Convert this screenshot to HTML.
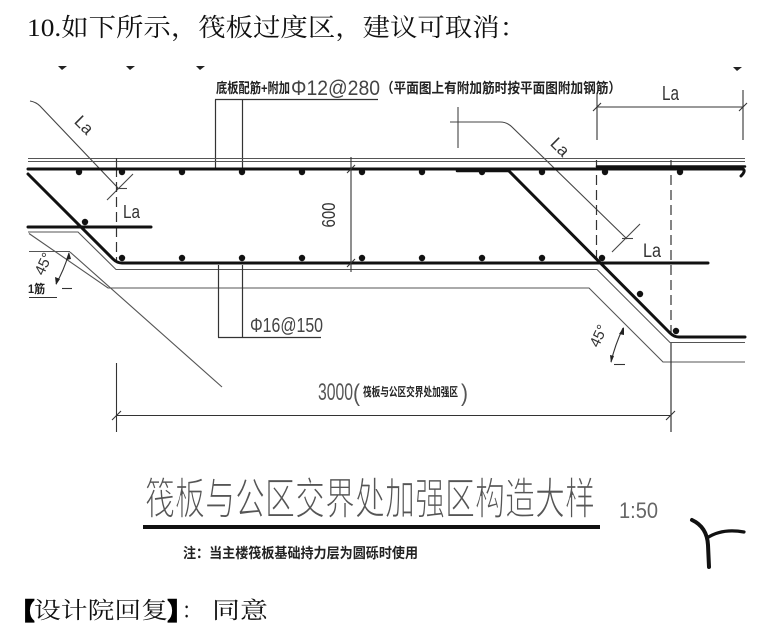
<!DOCTYPE html>
<html><head><meta charset="utf-8">
<style>
html,body{margin:0;padding:0;background:#fff;}
svg{display:block;}
.cad{font-family:"Liberation Sans","Noto Sans CJK SC",sans-serif;fill:#333;}
.cn{font-family:"Liberation Sans","Noto Sans CJK SC",sans-serif;font-weight:bold;fill:#222;}
.doc{font-family:"Liberation Serif","Noto Serif CJK SC",serif;fill:#111;}
.br{font-family:"Noto Sans CJK SC",sans-serif;font-weight:bold;fill:#000;stroke:#000;stroke-width:2.2;}
</style></head>
<body>
<svg width="769" height="642" viewBox="0 0 769 642" xmlns="http://www.w3.org/2000/svg">
<rect width="769" height="642" fill="#fff"/>

<!-- heading -->
<text class="doc" x="27" y="36" font-size="25" textLength="500" lengthAdjust="spacingAndGlyphs">10.如下所示，筏板过度区，建议可取消：</text>

<!-- top small marks -->
<g fill="#222">
<path d="M58 66 L67 66 L62 70 Z"/>
<path d="M126 66 L135 66 L130 70 Z"/>
<path d="M196 66 L205 66 L200 70 Z"/>
<path d="M733 67 L742 67 L737 71 Z"/>
</g>

<!-- top label -->
<text class="cn" x="216" y="93" font-size="14" textLength="74" lengthAdjust="spacingAndGlyphs">底板配筋+附加</text>
<text class="cad" x="291" y="95" font-size="21" textLength="89" lengthAdjust="spacingAndGlyphs" style="fill:#444">Φ12@280</text>
<text class="cn" x="381" y="93" font-size="14" textLength="240" lengthAdjust="spacingAndGlyphs">（平面图上有附加筋时按平面图附加钢筋）</text>
<g stroke="#333" stroke-width="1.2" fill="none">
<path d="M215 99.5 H378"/>
<path d="M215.5 99.5 V169"/>
<path d="M242.5 99.5 V169"/>
</g>

<!-- top right La dimension -->
<g stroke="#333" stroke-width="1.1" fill="none">
<path d="M597 93 V140"/>
<path d="M743 90 V140"/>
<path d="M597 107 H743"/>
<path d="M593 111 L601 103"/>
<path d="M739 111 L747 103"/>
</g>
<text class="cad" x="662" y="100" font-size="20" textLength="17" lengthAdjust="spacingAndGlyphs">La</text>

<!-- diagonal La leader (right) -->
<g stroke="#444" stroke-width="1.1" fill="none">
<path d="M458 107 V148"/>
<path d="M450 122 H500 Q507 122 512 127 L627 239"/>
<path d="M612 252 L640 224"/>
<path d="M622 238.5 H633"/>
</g>
<text class="cad" transform="translate(556,151) rotate(45)" text-anchor="middle" font-size="17">La</text>
<text class="cad" x="643" y="257" font-size="19" textLength="18" lengthAdjust="spacingAndGlyphs">La</text>

<!-- diagonal La leader (left) -->
<g stroke="#444" stroke-width="1.1" fill="none">
<path d="M30 101 Q36 102 40 106 L118 188"/>
<path d="M107 200 L133 174"/>
<path d="M117 188.5 H127"/>
</g>
<text class="cad" transform="translate(80,129) rotate(45)" text-anchor="middle" font-size="17">La</text>
<text class="cad" x="123" y="218" font-size="18" textLength="17" lengthAdjust="spacingAndGlyphs">La</text>

<!-- concrete outline lines -->
<g stroke="#555" stroke-width="1.1" fill="none">
<path d="M28 158.5 H745"/>
<path d="M28 161.5 H745"/>
<path d="M28 232 H78 L116 269.5 H597 L670 342.5 H745"/>
<path d="M29 233.5 L108 288 H589 L663 362 H745"/>
<path d="M29 251.5 H70"/>
<path d="M70 252 L222 387"/>
</g>

<!-- dashed verticals -->
<g stroke="#333" stroke-width="1.2" fill="none">
<path d="M116.5 158 V177"/>
<path d="M116.5 182 V262" stroke-dasharray="10,5"/>
<path d="M596.5 160 V262" stroke-dasharray="10,5"/>
<path d="M671 160 V334" stroke-dasharray="10,5"/>
<path d="M671 343 V432"/>
</g>

<!-- rebars -->
<g stroke="#111" stroke-width="3" fill="none" stroke-linecap="round">
<path d="M28 169 H743 q3 2 -2 7"/>
<path d="M457 171 H508" stroke-width="2.5"/>
<path d="M597 166.5 H745" stroke-width="2.5"/>
<path d="M28 174 L113 259 Q117 263 122 263 H708"/>
<path d="M28 227 H151"/>
<path d="M508 170 L670 333 Q674 337 679 337 H745"/>
</g>

<!-- dots -->
<g fill="#111">
<circle cx="79" cy="172" r="3.2"/><circle cx="122" cy="172" r="3.2"/><circle cx="182" cy="172" r="3.2"/>
<circle cx="242" cy="172" r="3.2"/><circle cx="302" cy="172" r="3.2"/><circle cx="362" cy="172" r="3.2"/>
<circle cx="422" cy="172" r="3.2"/><circle cx="482" cy="172" r="3.2"/><circle cx="542" cy="172" r="3.2"/>
<circle cx="605" cy="172" r="3.2"/><circle cx="680" cy="172" r="3.2"/>
<circle cx="122" cy="258" r="3.2"/><circle cx="182" cy="258" r="3.2"/><circle cx="242" cy="258" r="3.2"/>
<circle cx="302" cy="258" r="3.2"/><circle cx="362" cy="258" r="3.2"/><circle cx="422" cy="258" r="3.2"/>
<circle cx="482" cy="258" r="3.2"/><circle cx="542" cy="258" r="3.2"/><circle cx="602" cy="258" r="3.2"/>
<circle cx="85" cy="222" r="3.2"/>
<circle cx="640" cy="294" r="3.2"/><circle cx="676" cy="331" r="3.2"/>
</g>

<!-- 600 dimension -->
<g stroke="#333" stroke-width="1.1" fill="none">
<path d="M351 157 V272"/>
<path d="M347 173 L355 165"/>
<path d="M347 267 L355 259"/>
</g>
<text class="cad" transform="translate(335,215) rotate(-90)" text-anchor="middle" font-size="18" textLength="25" lengthAdjust="spacingAndGlyphs">600</text>

<!-- left 45 -->
<g stroke="#333" stroke-width="1.1" fill="none">
<path d="M69 253 Q64 270 56 284"/>
<path d="M62 288.5 H72"/>
<path d="M29 297.5 H57"/>
</g>
<path d="M69 252 L66 260 L71 259 Z M56 285 L55 277 L60 279 Z" fill="#222"/>
<text class="cad" transform="translate(48,266) rotate(-65)" text-anchor="middle" font-size="15">45°</text>
<text class="cn" x="28" y="293" font-size="12" textLength="17" lengthAdjust="spacingAndGlyphs">1筋</text>

<!-- right 45 -->
<g stroke="#333" stroke-width="1.1" fill="none">
<path d="M623 328 Q615 345 611 362"/>
<path d="M614 364.5 H625"/>
</g>
<path d="M624 327 L619 334 L624 335 Z M611 363 L610 355 L614 356 Z" fill="#222"/>
<text class="cad" transform="translate(603,338) rotate(-65)" text-anchor="middle" font-size="15">45°</text>

<!-- 16@150 leader -->
<g stroke="#333" stroke-width="1.2" fill="none">
<path d="M218.5 265 V337.5"/>
<path d="M242.5 265 V337.5"/>
<path d="M218 337.5 H321"/>
</g>
<text class="cad" x="250" y="332" font-size="20" textLength="73" lengthAdjust="spacingAndGlyphs" style="fill:#444">Φ16@150</text>

<!-- 3000 dimension -->
<g stroke="#333" stroke-width="1.1" fill="none">
<path d="M116.5 363 V432"/>
<path d="M116 415.5 H671"/>
<path d="M112 420 L121 411"/>
<path d="M666 420 L675 411"/>
</g>
<text class="cad" x="318" y="400" font-size="24" textLength="35" lengthAdjust="spacingAndGlyphs" style="fill:#555">3000</text>
<text class="cad" x="353" y="401" font-size="24" textLength="7" lengthAdjust="spacingAndGlyphs" style="fill:#555">(</text>
<text class="cn" x="363" y="396" font-size="12" textLength="95" lengthAdjust="spacingAndGlyphs">筏板与公区交界处加强区</text>
<text class="cad" x="461" y="401" font-size="24" textLength="7" lengthAdjust="spacingAndGlyphs" style="fill:#555">)</text>

<!-- big title -->
<text x="145" y="514" font-size="44" textLength="450" lengthAdjust="spacingAndGlyphs" style="font-family:'Liberation Sans','Noto Sans CJK SC',sans-serif;fill:#555;stroke:#fff;stroke-width:1.3;paint-order:normal;">筏板与公区交界处加强区构造大样</text>
<rect x="143" y="525" width="457" height="4" fill="#111"/>
<text class="cad" x="619" y="518" font-size="22" textLength="39" lengthAdjust="spacingAndGlyphs" style="fill:#666">1:50</text>
<text class="cn" x="183" y="558" font-size="14" textLength="235" lengthAdjust="spacingAndGlyphs">注：当主楼筏板基础持力层为圆砾时使用</text>

<!-- symbol -->
<g stroke="#111" fill="none" stroke-linecap="round">
<path d="M692 520 Q707 527 708 545 L709 567" stroke-width="4"/>
<path d="M707 538 Q722 528 744 532" stroke-width="3.2"/>
</g>

<!-- reply -->
<text class="br" x="11" y="619" font-size="23">【</text>
<text class="doc" x="34" y="618" font-size="23" textLength="134" lengthAdjust="spacingAndGlyphs">设计院回复</text>
<text class="br" x="168" y="619" font-size="23">】</text>
<text class="doc" x="182" y="618" font-size="23" textLength="20" lengthAdjust="spacingAndGlyphs">：</text>
<text class="doc" x="212" y="618" font-size="23" textLength="56" lengthAdjust="spacingAndGlyphs">同意</text>
</svg>
</body></html>
